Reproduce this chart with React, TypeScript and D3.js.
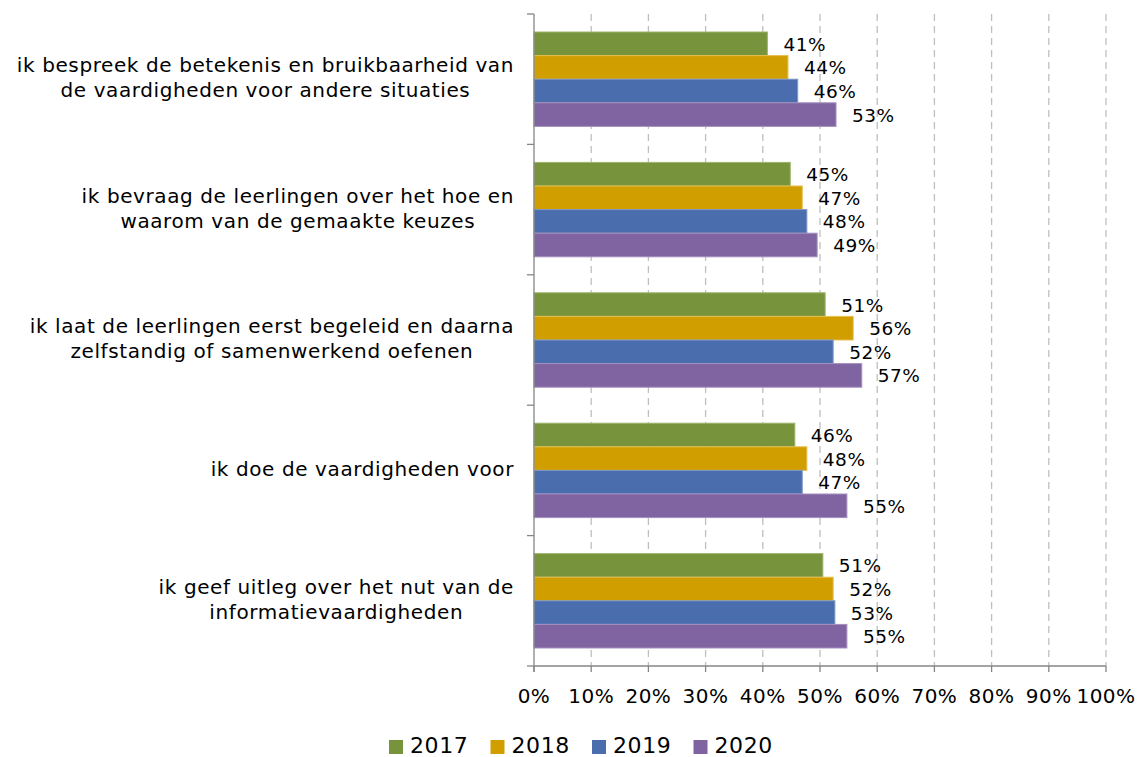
import React, { useEffect, useRef } from "react";
import * as d3 from "d3";

const categories: string[][] = [
  ["ik bespreek de betekenis en bruikbaarheid van", "de vaardigheden voor andere situaties"],
  ["ik bevraag de leerlingen over het hoe en", "waarom van de gemaakte keuzes"],
  ["ik laat de leerlingen eerst begeleid en daarna", "zelfstandig of samenwerkend oefenen"],
  ["ik doe de vaardigheden voor"],
  ["ik geef uitleg over het nut van de", "informatievaardigheden"],
];
const seriesNames = ["2017", "2018", "2019", "2020"];
const seriesColors = ["#77933C", "#D19E00", "#4A6EAD", "#8064A2"];
const seriesStroke = ["#9DB56A", "#E6BF4D", "#7C97C8", "#A48FBE"];
const values2017 = [0.408, 0.448, 0.509, 0.456, 0.505];
const values2018 = [0.444, 0.469, 0.558, 0.477, 0.523];
const values2019 = [0.461, 0.477, 0.523, 0.469, 0.526];
const values2020 = [0.528, 0.495, 0.573, 0.547, 0.547];
const labels2017 = ["41%", "45%", "51%", "46%", "51%"];
const labels2018 = ["44%", "47%", "56%", "48%", "52%"];
const labels2019 = ["46%", "48%", "52%", "47%", "53%"];
const labels2020 = ["53%", "49%", "57%", "55%", "55%"];
const xTicks = [0, 0.1, 0.2, 0.3, 0.4, 0.5, 0.6, 0.7, 0.8, 0.9, 1.0];

const W = 1138;
const H = 757;
const FONT = "'DejaVu Sans', Verdana, sans-serif";

export default function App() {
  const ref = useRef<SVGSVGElement>(null);
  useEffect(() => {
    const svg = d3.select(ref.current!);
    svg.selectAll("*").remove();
    const left = 534, right = 1106, top = 14, bottom = 666;
    const x = d3.scaleLinear().domain([0, 1]).range([left, right]);
    const y = d3.scaleBand<number>().domain(d3.range(categories.length)).range([top, bottom]);
    const barH = 23.6;
    const sub = d3.scaleBand<number>().domain(d3.range(4)).range([-2 * barH, 2 * barH]);
    const allVals = [values2017, values2018, values2019, values2020];
    const allLabels = [labels2017, labels2018, labels2019, labels2020];

    // gridlines
    svg.append("g").selectAll("line").data(xTicks.slice(1)).join("line")
      .attr("x1", (d) => x(d)).attr("x2", (d) => x(d))
      .attr("y1", top).attr("y2", bottom)
      .attr("stroke", "#BFBFBF").attr("stroke-width", 1.3)
      .attr("stroke-dasharray", "7,5");

    // bars
    for (let s = 0; s < 4; s++) {
      const g = svg.append("g");
      g.selectAll("rect").data(allVals[s]).join("rect")
        .attr("x", x(0))
        .attr("y", (_d, i) => y(i)! + y.bandwidth() / 2 + sub(s)!)
        .attr("width", (d) => x(d) - x(0))
        .attr("height", barH)
        .attr("fill", seriesColors[s])
        .attr("stroke", seriesStroke[s]).attr("stroke-width", 1);
      g.selectAll("text").data(allVals[s]).join("text")
        .attr("x", (d) => x(d) + 16)
        .attr("y", (_d, i) => y(i)! + y.bandwidth() / 2 + sub(s)! + barH / 2 + 2)
        .attr("dominant-baseline", "middle")
        .attr("font-family", FONT).attr("font-size", 18.5).attr("letter-spacing", 0.5)
        .attr("fill", "#000")
        .text((_d, i) => allLabels[s][i]);
    }

    // axes
    const axisColor = "#868686";
    svg.append("line").attr("x1", left).attr("x2", left).attr("y1", top).attr("y2", bottom + 6)
      .attr("stroke", axisColor).attr("stroke-width", 1.3);
    svg.append("line").attr("x1", left).attr("x2", right).attr("y1", bottom).attr("y2", bottom)
      .attr("stroke", axisColor).attr("stroke-width", 1.3);
    const bounds = d3.range(categories.length + 1).map((i) => top + i * y.step());
    svg.append("g").selectAll("line").data(bounds).join("line")
      .attr("x1", left - 7).attr("x2", left).attr("y1", (d) => d).attr("y2", (d) => d)
      .attr("stroke", axisColor).attr("stroke-width", 1.3);
    svg.append("g").selectAll("line").data(xTicks).join("line")
      .attr("x1", (d) => x(d)).attr("x2", (d) => x(d)).attr("y1", bottom).attr("y2", bottom + 6)
      .attr("stroke", axisColor).attr("stroke-width", 1.3);
    svg.append("g").selectAll("text").data(xTicks).join("text")
      .attr("x", (d) => x(d)).attr("y", 697)
      .attr("text-anchor", "middle").attr("dominant-baseline", "middle")
      .attr("font-family", FONT).attr("font-size", 20).attr("letter-spacing", 0.5)
      .attr("fill", "#000")
      .text((d) => d3.format(".0%")(d));

    // category labels
    const lineH = 25;
    categories.forEach((lines, i) => {
      const cy = y(i)! + y.bandwidth() / 2;
      const g = svg.append("g");
      const texts = lines.map((ln, j) =>
        g.append("text")
          .attr("y", cy + (j - (lines.length - 1) / 2) * lineH)
          .attr("dominant-baseline", "middle")
          .attr("text-anchor", "middle")
          .attr("font-family", FONT).attr("font-size", 20).attr("letter-spacing", 0.6)
          .attr("fill", "#000")
          .text(ln)
      );
      const widths = texts.map((t) => (t.node() as SVGTextElement).getComputedTextLength());
      const maxW = Math.max(...widths);
      const cx = 514 - maxW / 2;
      texts.forEach((t) => t.attr("x", cx));
    });

    // legend
    const lg = svg.append("g");
    seriesNames.forEach((name, s) => {
      const lx = 389 + s * 101.5;
      lg.append("rect").attr("x", lx).attr("y", 740).attr("width", 14).attr("height", 14)
        .attr("fill", seriesColors[s]);
      lg.append("text").attr("x", lx + 21).attr("y", 747)
        .attr("dominant-baseline", "middle")
        .attr("font-family", FONT).attr("font-size", 22).attr("letter-spacing", 0.6)
        .attr("fill", "#000")
        .text(name);
    });
  }, []);
  return (
    <svg ref={ref} width={W} height={H}
      style={{ position: "absolute", left: 0, top: 0, background: "#fff" }} />
  );
}
